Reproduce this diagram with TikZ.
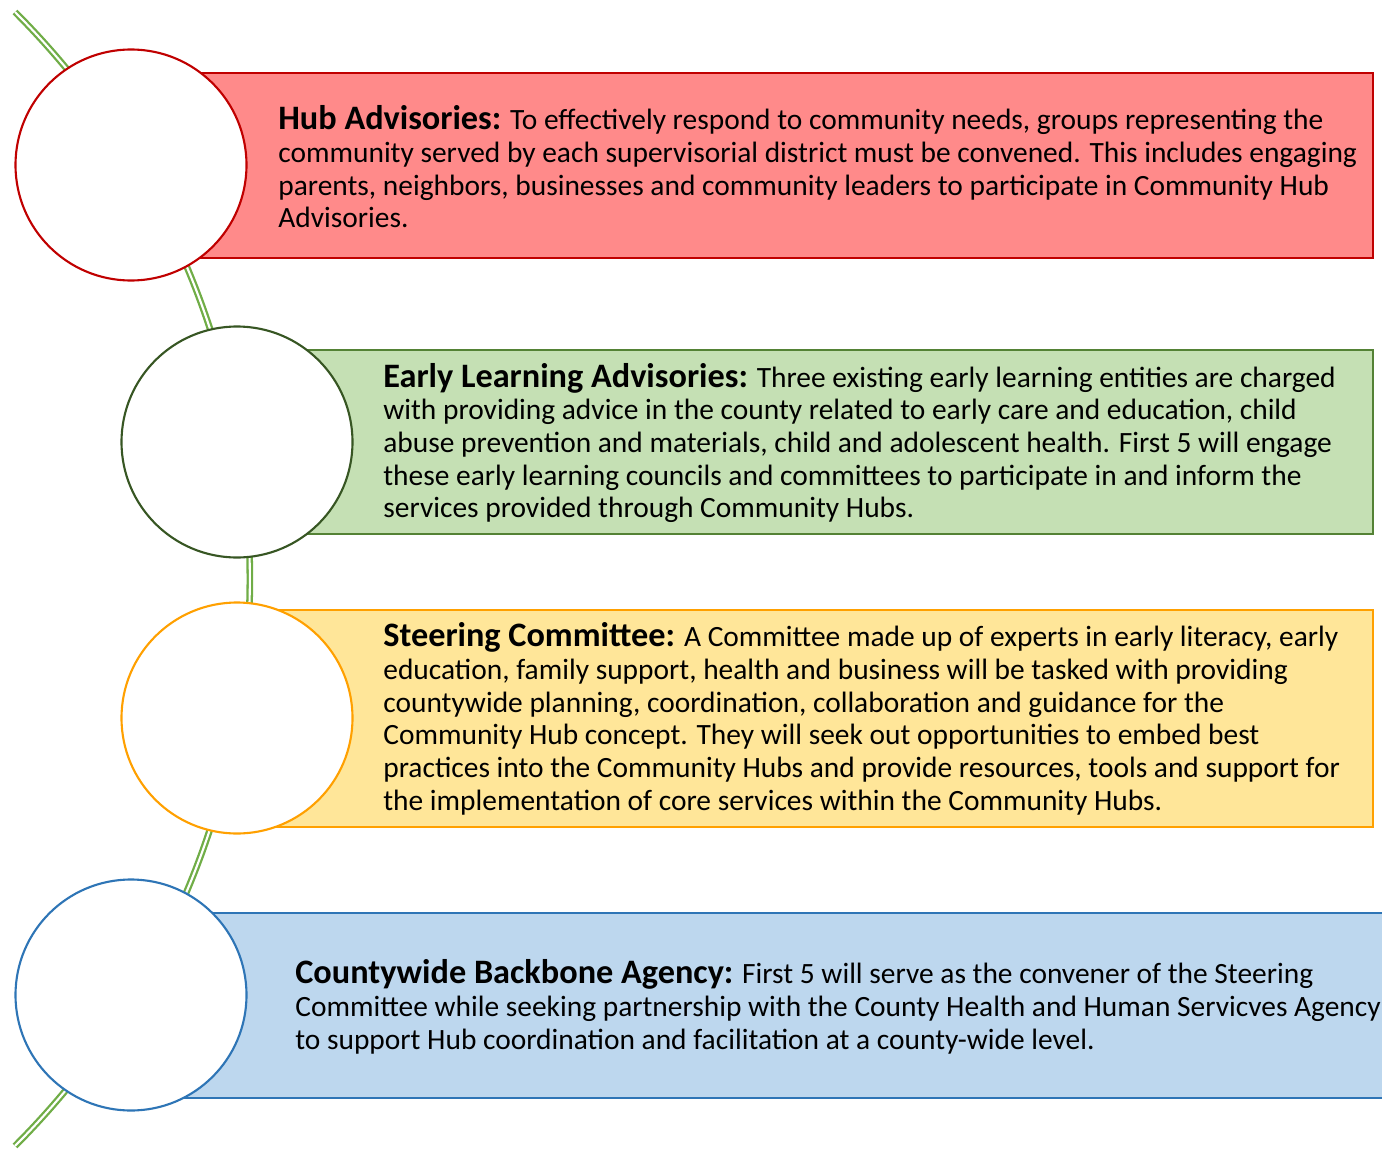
\documentclass[tikz,border=0pt]{standalone}
\usepackage{fontspec}
\setmainfont{Carlito}
\definecolor{hubred}{HTML}{C00000}
\definecolor{hubredfill}{HTML}{FF8A8A}
\definecolor{elgreen}{HTML}{375623}
\definecolor{elgreenrim}{HTML}{548235}
\definecolor{elgreenfill}{HTML}{C5E0B4}
\definecolor{scorange}{HTML}{FFA000}
\definecolor{scfill}{HTML}{FFE699}
\definecolor{cbblue}{HTML}{2E75B6}
\definecolor{cbfill}{HTML}{BDD7EE}
\definecolor{spine}{HTML}{70AD47}
\tikzset{
    circ/.style={circle, draw, fill=white, line width=1.2pt, minimum size=231*0.02cm, inner sep=0pt},
    band/.style={line width=1.2pt},
    txt/.style={anchor=west, align=left, inner sep=0pt, font=\fontsize{16.75}{18.6}\selectfont},
}
\newcommand{\ttlf}[1]{{\fontsize{19.5}{18.6}\selectfont\bfseries #1}}
\begin{document}
\begin{tikzpicture}[x=0.02cm, y=-0.02cm]
\clip (0,0) rectangle (1382,1149);
\draw[spine, line width=1.3pt, double=white, double distance=1.2pt] (15,12) arc[start angle=45, end angle=-45, radius=16.04cm];
\filldraw[band, draw=hubred, fill=hubredfill] (131,73) rectangle (1373,258);
\filldraw[band, draw=elgreenrim, fill=elgreenfill] (237,350) rectangle (1373,534);
\filldraw[band, draw=scorange, fill=scfill] (237,610) rectangle (1373,827);
\filldraw[band, draw=cbblue, fill=cbfill] (131,913) rectangle (1400,1098);
\node[circ, draw=hubred] (c1) at (131,165) {};
\node[circ, draw=elgreen] (c2) at (237,442) {};
\node[circ, draw=scorange] (c3) at (237,718) {};
\node[circ, draw=cbblue] (c4) at (131,995) {};
\node[txt] (t1) at (278,167) {\ttlf{Hub Advisories:} To effectively respond to community needs, groups representing the\\
community served by each supervisorial district must be convened. This includes engaging\\
parents, neighbors, businesses and community leaders to participate in Community Hub\\
Advisories.};
\node[txt] (t2) at (383,443) {\ttlf{Early Learning Advisories:} Three existing early learning entities are charged\\
with providing advice in the county related to early care and education, child\\
abuse prevention and materials, child and adolescent health. First 5 will engage\\
these early learning councils and committees to participate in and inform the\\
services provided through Community Hubs.};
\node[txt] (t3) at (383,719) {\ttlf{Steering Committee:} A Committee made up of experts in early literacy, early\\
education, family support, health and business will be tasked with providing\\
countywide planning, coordination, collaboration and guidance for the\\
Community Hub concept. They will seek out opportunities to embed best\\
practices into the Community Hubs and provide resources, tools and support for\\
the implementation of core services within the Community Hubs.};
\node[txt] (t4) at (295,1007) {\ttlf{Countywide Backbone Agency:} First 5 will serve as the convener of the Steering\\
Committee while seeking partnership with the County Health and Human Servicves Agency\\
to support Hub coordination and facilitation at a county-wide level.};
\end{tikzpicture}
\end{document}
